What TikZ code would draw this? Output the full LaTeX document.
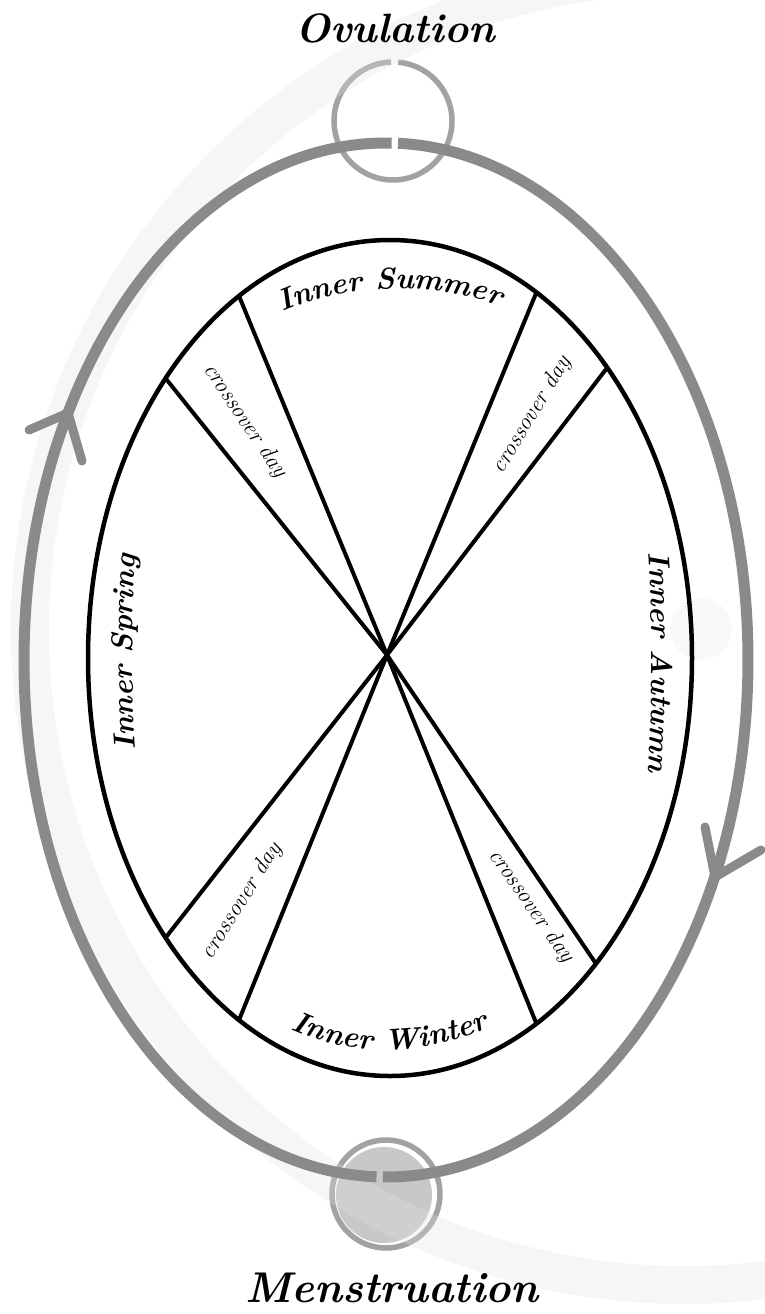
\documentclass[tikz,border=0pt]{standalone}
\usepackage{xcolor}
\usepackage{tikz}
\usetikzlibrary{calc,decorations.text}

\newcommand{\seasonfont}{\fontsize{30}{36}\selectfont\bfseries\itshape}

\begin{document}
\begin{tikzpicture}[x=1pt,y=-1pt,
    orbit/.style={cOrb,line width=11pt},
    barb/.style={cOrb,line width=9pt,line cap=round},
    ring/.style={cRing,line width=5.5pt},
    wheel/.style={black,line width=4.5pt},
    spoke/.style={black,line width=4pt},
    phase/.style={font=\fontsize{41}{48}\selectfont\bfseries\itshape,inner sep=0pt},
    xover/.style={font=\fontsize{23}{28}\selectfont\itshape,inner sep=0pt},
    season/.style={decorate,decoration={text along path,text align=center,text={|\seasonfont|#1}}}]
  \definecolor{cOrb}{RGB}{138,138,138}
  \definecolor{cRing}{RGB}{162,162,162}
  \definecolor{cMoon}{RGB}{200,200,200}
  \definecolor{cHaze}{RGB}{225,225,225}
  \definecolor{cDot}{RGB}{249,249,249}
  \useasboundingbox (0,0) rectangle (765,1314);
  \coordinate (oc) at (386,660);
  \coordinate (ec) at (390,658);
  \coordinate (hub) at (387,655);
  \coordinate (haze) at (685,630);
  \coordinate (ovc) at (393,121);
  \coordinate (mc) at (386,1194);
  \coordinate (mfc) at (384,1195);
  % faint backdrop
  \fill[cDot] (701,629) circle[radius=31pt];
  % ovulation and menstruation circles
  \draw[ring] ($(ovc)+(85:59pt)$) arc[start angle=85,end angle=-268,radius=59pt];
  \fill[cMoon] (mfc) circle[radius=48pt];
  \draw[ring] (mc) circle[radius=54pt];
  \begin{scope}
    \clip (0,0) rectangle (765,1314);
    \draw[cHaze,opacity=0.3,line width=38pt] (haze) circle[radius=655pt];
  \end{scope}
  % the cycle
  \draw[orbit] ($(oc)+(89.1:362pt and 517pt)$) arc[start angle=89.1,end angle=268.5,x radius=362pt,y radius=517pt];
  \draw[orbit] ($(oc)+(-90.5:362pt and 517pt)$) arc[start angle=-90.5,end angle=88.1,x radius=362pt,y radius=517pt];
  \coordinate (arrL) at (68,413);
  \coordinate (arrLa) at (29,430);
  \coordinate (arrLb) at (82,461);
  \coordinate (arrR) at (715,877);
  \coordinate (arrRa) at (705,827);
  \coordinate (arrRb) at (761,850);
  \draw[barb] (arrLa) -- (arrL) -- (arrLb);
  \draw[barb] (arrRa) -- (arrR) -- (arrRb);
  % inner wheel
  \draw[wheel] (ec) ellipse[x radius=302pt,y radius=418pt];
  \foreach \a in {44,61,120,138,222,240,299,313}
    \coordinate (rim\a) at ($(ec)+(\a:302pt and 418pt)$);
  \foreach \a in {44,61,120,138,222,240,299,313}
    \draw[spoke] (hub) -- (rim\a);
  % seasons
  \path[season={Inner Summer}] (262,322) .. controls (335,280) and (445,278) .. (520,315);
  \path[season={Inner Winter}] (272,1020) .. controls (345,1060) and (430,1060) .. (508,1018);
  \path[season={Inner Spring}] (140,790) .. controls (130,720) and (130,590) .. (140,515);
  \path[season={Inner Autumn}] (645,520) .. controls (654,595) and (654,725) .. (645,805);
  \node[xover,rotate=-56] (xTL) at (245,421) {crossover day};
  \node[xover,rotate=59] (xTR) at (532,415) {crossover day};
  \node[xover,rotate=58] (xBL) at (242,901) {crossover day};
  \node[xover,rotate=-55] (xBR) at (531,906) {crossover day};
  \node[phase,anchor=base] (ovu) at (395,43) {Ovulation};
  \node[phase,anchor=base,font=\fontsize{43}{50}\selectfont\bfseries\itshape] (men) at (392,1302) {Menstruation};
\end{tikzpicture}
\end{document}
